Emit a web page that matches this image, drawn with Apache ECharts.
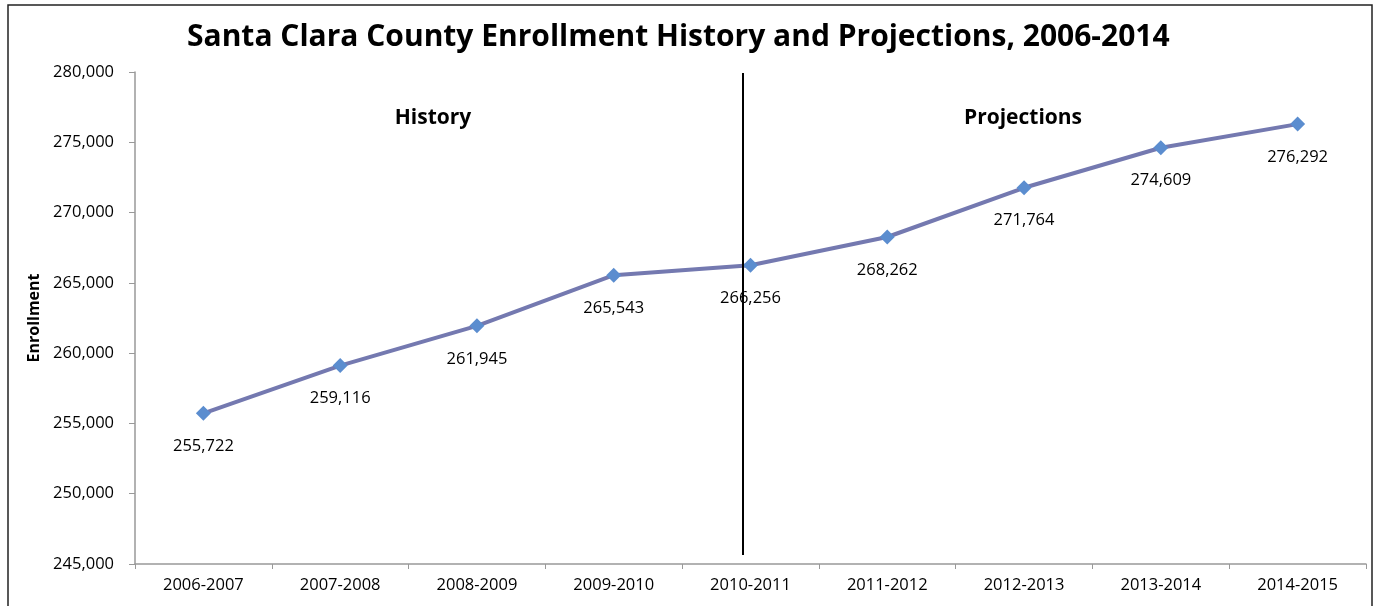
<!DOCTYPE html>
<html><head><meta charset="utf-8">
<script src="https://cdn.jsdelivr.net/npm/echarts@6/dist/echarts.min.js"></script>
<style>html,body{margin:0;padding:0;background:#fff}#c{width:1378px;height:606px}</style>
</head><body><div id="c"></div>
<script>
const categories = ['2006-2007','2007-2008','2008-2009','2009-2010','2010-2011','2011-2012','2012-2013','2013-2014','2014-2015'];
const enrollment = [255722, 259116, 261945, 265543, 266256, 268262, 271764, 274609, 276292];
const yTicks = {min: 245000, max: 280000, interval: 5000};
const titleText = 'Santa Clara County Enrollment History and Projections, 2006-2014';
const sectionLabels = ['History', 'Projections'];

const FONT = '"Open Sans", "Liberation Sans", sans-serif';
const chart = echarts.init(document.getElementById('c'));
chart.setOption({
  animation: false,
  title: {text: titleText, left: 182, top: 17,
    textStyle: {fontFamily: FONT, fontWeight: 'bold', fontSize: 30, color: '#000'}},
  grid: {left: 135, right: 12, top: 72, bottom: 42},
  xAxis: {type: 'category', data: categories, boundaryGap: true,
    axisLine: {lineStyle: {color: '#999', width: 1.5}},
    axisTick: {show: true, alignWithLabel: false, length: 5, lineStyle: {color: '#999'}},
    axisLabel: {fontFamily: FONT, fontSize: 16.5, color: '#000', margin: 13}},
  yAxis: {type: 'value', min: yTicks.min, max: yTicks.max, interval: yTicks.interval,
    name: 'Enrollment', nameLocation: 'middle', nameGap: 93, nameRotate: 90,
    nameTextStyle: {fontFamily: FONT, fontWeight: 'bold', fontSize: 16, color: '#000'},
    splitLine: {show: false},
    axisLine: {show: true, lineStyle: {color: '#999', width: 1.5}},
    axisTick: {show: true, length: 6, lineStyle: {color: '#999'}},
    axisLabel: {fontFamily: FONT, fontSize: 16.5, color: '#000', margin: 21,
      formatter: v => v.toLocaleString('en-US')}},
  series: [{
    type: 'line', data: enrollment,
    symbol: 'diamond', symbolSize: 15,
    lineStyle: {color: '#7479b0', width: 4},
    itemStyle: {color: '#5b8dcf'},
    label: {show: true, position: 'bottom', distance: 17, fontFamily: FONT, fontSize: 16.5, color: '#000',
      formatter: p => p.value.toLocaleString('en-US')},
    markLine: {silent: true, symbol: 'none', label: {show: false},
      lineStyle: {color: '#000', width: 2, type: 'solid'},
      data: [[{x: 743, y: 73}, {x: 743, y: 555}]]}
  }],
  graphic: [
    {type: 'rect', shape: {x: 8, y: 5, width: 1364, height: 640}, style: {fill: 'none', stroke: '#222', lineWidth: 1.5}, silent: true},
    {type: 'text', x: 433, y: 118, style: {text: sectionLabels[0], font: 'bold 21px ' + FONT, fill: '#000', textAlign: 'center', textVerticalAlign: 'middle'}},
    {type: 'text', x: 1023, y: 118, style: {text: sectionLabels[1], font: 'bold 21px ' + FONT, fill: '#000', textAlign: 'center', textVerticalAlign: 'middle'}}
  ]
});
</script></body></html>
